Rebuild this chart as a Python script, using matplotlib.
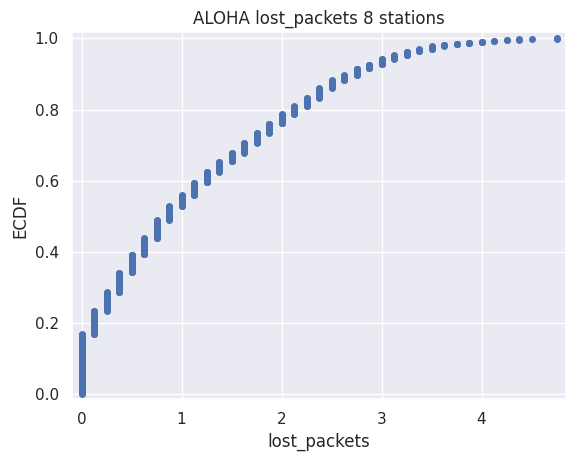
import matplotlib
matplotlib.use('Agg')
import matplotlib.pyplot as plt
import numpy as np
import seaborn as sns

# lost_packets levels (steps of 1/8) and how many of 1000 runs hit each level
levels = [0, 0.125, 0.25, 0.375, 0.5, 0.625, 0.75, 0.875,
          1.0, 1.125, 1.25, 1.375, 1.5, 1.625, 1.75, 1.875,
          2.0, 2.125, 2.25, 2.375, 2.5, 2.625, 2.75, 2.875,
          3.0, 3.125, 3.25, 3.375, 3.5, 3.625, 3.75, 3.875,
          4.0, 4.125, 4.25, 4.375, 4.5, 4.75]
counts = [168, 66, 52, 55, 51, 46, 51, 39,
          31, 35, 30, 29, 25, 28, 28, 26,
          26, 23, 23, 28, 22, 14, 19, 11,
          16, 10, 11, 6, 9, 4, 3, 3,
          3, 2, 2, 2, 1, 2]

sns.set_theme()

data = np.repeat(levels, counts)
x = np.sort(data)
y = np.arange(1, len(x) + 1) / len(x)

fig, ax = plt.subplots(figsize=(5.77, 4.63), dpi=100)
fig.subplots_adjust(left=0.125, right=0.981, top=0.931, bottom=0.138)
ax.plot(x, y, marker='o', ms=5, mew=0, linestyle='none', color='#4c72b0')
ax.set_xlim(-0.095, 4.845)
ax.set_ylim(-0.014, 1.018)
ax.set_xlabel('lost_packets')
ax.set_ylabel('ECDF')
ax.set_title('ALOHA lost_packets 8 stations')
fig.savefig('out.png', dpi=100)
